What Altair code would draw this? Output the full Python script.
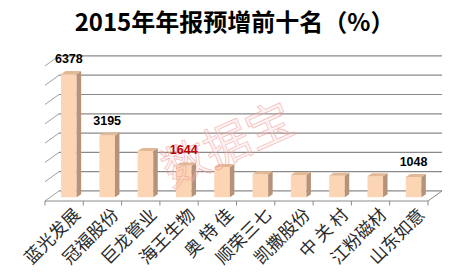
import altair as alt
import pandas as pd

# ---- data ----
categories = ["蓝光发展", "冠福股份", "巨龙管业", "海王生物", "奥 特 佳",
              "顺荣三七", "凯撒股份", "中 关 村", "江粉磁材", "山东如意"]
values = [6378, 3195, 2390, 1644, 1570, 1190, 1150, 1110, 1090, 1048]
value_labels = ["6378", "3195", "", "1644", "", "", "", "", "", "1048"]
label_colors = ["#000000", "#000000", "#000000", "#C00000", "#000000",
                "#000000", "#000000", "#000000", "#000000", "#000000"]
grid_values = [0, 1000, 2000, 3000, 4000, 5000, 6000, 7000]
title_text = "2015年年报预增前十名（%）"
watermark = "数据宝"

# ---- geometry constants (pixels converted into data units) ----
PX_X = 38.3
PX_Y = 1 / 52.0
BACK_DX = 14 / PX_X
BACK_DY = 10.0 / PX_Y
BAR_OFF = 4.7 / PX_X
BAR_HALF = 7.8 / PX_X
BAR_BASE = -6.2 / PX_Y
SIDE_DX = 4.5 / PX_X
SIDE_DY = 3.0 / PX_Y
FLOOR = -BACK_DY
Y_TOP = 140.5 / PX_Y
XMIN, XMAX = -0.5, 9.5 + BACK_DX

n = len(categories)
idx = list(range(n))

xs = alt.Scale(domain=[XMIN, XMAX], nice=False, zero=False)
ys = alt.Scale(domain=[FLOOR, Y_TOP], nice=False, zero=False)

# back wall gridlines and left-wall stubs
grid_df = pd.DataFrame({"g": grid_values})
grid_df["x1"] = XMIN + BACK_DX
grid_df["x2"] = XMAX
grid_df["sx1"] = XMIN
grid_df["sy1"] = grid_df["g"] - BACK_DY
grid = alt.Chart(grid_df).mark_rule(color="#8a8a8a", strokeWidth=1.2).encode(
    x=alt.X("x1:Q", scale=xs, axis=None), x2="x2:Q",
    y=alt.Y("g:Q", scale=ys, axis=None))
stubs = alt.Chart(grid_df).mark_rule(color="#a0a0a0", strokeWidth=1).encode(
    x=alt.X("sx1:Q", scale=xs, axis=None), x2="x1:Q",
    y=alt.Y("sy1:Q", scale=ys, axis=None), y2="g:Q")

# floor edges and category ticks
floor_df = pd.DataFrame({"x": [XMIN, 9.5], "x2": [9.5, 9.5 + BACK_DX],
                         "y": [FLOOR, FLOOR], "y2": [FLOOR, 0]})
floor = alt.Chart(floor_df).mark_rule(color="#8a8a8a", strokeWidth=1).encode(
    x=alt.X("x:Q", scale=xs, axis=None), x2="x2:Q",
    y=alt.Y("y:Q", scale=ys, axis=None), y2="y2:Q")
tick_df = pd.DataFrame({"x": [i - 0.5 for i in range(n + 1)]})
tick_df["y"] = FLOOR
tick_df["y2"] = FLOOR - 4.5 / PX_Y
ticks = alt.Chart(tick_df).mark_rule(color="#8a8a8a", strokeWidth=1).encode(
    x=alt.X("x:Q", scale=xs, axis=None),
    y=alt.Y("y:Q", scale=ys, axis=None), y2="y2:Q")

# bars (front faces)
bar_df = pd.DataFrame({"i": idx, "v": values, "cat": categories,
                       "lab": value_labels, "lc": label_colors})
bar_df["xl"] = bar_df["i"] + BAR_OFF - BAR_HALF
bar_df["xr"] = bar_df["i"] + BAR_OFF + BAR_HALF
bar_df["yb"] = BAR_BASE
bar_df["yt"] = bar_df["v"] + BAR_BASE
bar_df["xc"] = bar_df["i"] + BAR_OFF
front = alt.Chart(bar_df).mark_rect(color="#FCD5B4").encode(
    x=alt.X("xl:Q", scale=xs, axis=None), x2="xr:Q",
    y=alt.Y("yb:Q", scale=ys, axis=None), y2="yt:Q")

# side and top faces (parallelograms)
side_rows, top_rows = [], []
for _, r in bar_df.iterrows():
    k = "b%d" % int(r.i)
    side_rows.append({"k": k, "x": float(r.xr), "y": float(r.yt), "y2": float(r.yb)})
    side_rows.append({"k": k, "x": float(r.xr + SIDE_DX), "y": float(r.yt + SIDE_DY), "y2": float(r.yb + SIDE_DY)})
    top_rows.append({"k": k, "x": float(r.xl), "y": float(r.yt), "y2": float(r.yt)})
    top_rows.append({"k": k, "x": float(r.xl + SIDE_DX), "y": float(r.yt + SIDE_DY), "y2": float(r.yt)})
    top_rows.append({"k": k, "x": float(r.xr), "y": float(r.yt + SIDE_DY), "y2": float(r.yt)})
    top_rows.append({"k": k, "x": float(r.xr + SIDE_DX), "y": float(r.yt + SIDE_DY), "y2": float(r.yt + SIDE_DY)})
side = alt.Chart(pd.DataFrame(side_rows)).mark_area(color="#B5937A", opacity=1).encode(
    x=alt.X("x:Q", scale=xs, axis=None),
    y=alt.Y("y:Q", scale=ys, axis=None, stack=None), y2="y2:Q", detail="k:N")
top = alt.Chart(pd.DataFrame(top_rows)).mark_area(color="#E2B994", opacity=1).encode(
    x=alt.X("x:Q", scale=xs, axis=None),
    y=alt.Y("y:Q", scale=ys, axis=None, stack=None), y2="y2:Q", detail="k:N")

# value labels
vlabels = alt.Chart(bar_df).mark_text(
    font="Liberation Sans", fontSize=12.5, fontWeight="bold", baseline="middle",
    dy=-15).encode(
    x=alt.X("xc:Q", scale=xs, axis=None),
    y=alt.Y("yt:Q", scale=ys, axis=None),
    text="lab:N", color=alt.Color("lc:N", scale=None))

# category labels
bar_df["ly"] = FLOOR
bar_df["lx"] = bar_df["i"] + 0.06
clabels = alt.Chart(bar_df).mark_text(
    font="Noto Sans CJK SC", fontSize=17.5, angle=315, align="right",
    baseline="middle", dy=16, color="#2a2a2a").encode(
    x=alt.X("lx:Q", scale=xs, axis=None),
    y=alt.Y("ly:Q", scale=ys, axis=None),
    text="cat:N")

# watermark
wm_df = pd.DataFrame({"t": [watermark], "x": [4.28], "y": [2300]})
wm = alt.Chart(wm_df).mark_text(
    font="Noto Sans CJK SC", fontSize=46, angle=336, fill="#F9D0D0",
    fillOpacity=0.25, stroke="#EE8C8C", strokeWidth=0.8, strokeOpacity=0.55,
    baseline="middle", align="center").encode(
    x=alt.X("x:Q", scale=xs, axis=None),
    y=alt.Y("y:Q", scale=ys, axis=None), text="t:N")

W = int(round((XMAX - XMIN) * PX_X))
chart = alt.layer(grid, stubs, floor, ticks, front, side, top, wm, vlabels, clabels).properties(
    width=W,
    height=151,
    padding={"left": 45, "top": 50, "right": 468 - 45 - W, "bottom": 75},
    autosize=alt.AutoSizeParams(type="none"),
    title=alt.TitleParams(title_text, font="Noto Sans CJK SC", fontSize=24,
                          fontWeight="bold", color="#000000", anchor="middle",
                          offset=14, dx=-9),
    background="white",
).configure_view(stroke=None)

chart.save("out.html", embed_options={"renderer": "svg", "actions": False})
